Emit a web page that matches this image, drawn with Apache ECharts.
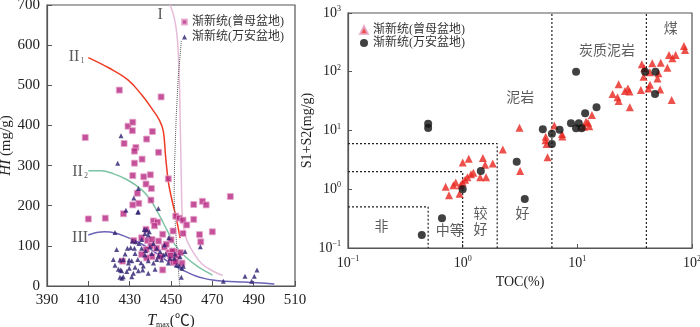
<!DOCTYPE html>
<html>
<head>
    <meta charset="utf-8" />
    <title>Tmax-HI 与 TOC-S1+S2</title>
    <script src="https://cdn.jsdelivr.net/npm/echarts@6/dist/echarts.min.js"></script>
    <style type="text/css">
        html, body { margin: 0; padding: 0; background: #fff; }
        #chart { width: 700px; height: 327px; }
    </style>
</head>
<body>
    <div id="chart"></div>
    <script>
        // 图例名称
        const zmName = '渐新统(曾母盆地)';
        const waName = '渐新统(万安盆地)';

        // 左图: Tmax - HI 散点
        const zmTmax = [425, 445.2, 408.5, 429.2, 431.5, 431.3, 441, 427.3, 438.2, 433, 432.3, 444, 436, 432.3, 431.5, 436.8, 440, 448.7,
            437.9, 440.5, 433.7, 440.3, 434.4, 431.5, 427, 410, 418.2, 461, 465.2, 467, 478.7, 461, 452.3, 454, 455.8, 457.6, 451, 455.8,
            463.8, 464.4, 470, 446, 441.5, 443.5, 442, 437.9, 435.8, 438.7, 444, 440.3, 432, 443, 438, 446.8, 449, 451.6, 453, 444.8,
            440.8, 438.2, 426.5, 435.8, 450, 451.3, 455.3, 446, 440.8, 450, 447.7, 454.5, 450.6, 449.8, 452.3];
        const zmHI = [488, 471, 370, 398, 408, 387, 385, 355, 366, 345, 336, 333, 316, 306, 275, 272, 277, 267,
            254, 243, 231, 214, 206, 202, 180, 167, 169, 203, 211, 202, 223, 166, 174, 169, 164, 152, 137, 131,
            128, 110, 135, 129, 162, 159, 150, 141, 120, 113, 112, 100, 113, 94, 91, 97, 83, 86, 75, 73,
            73, 70, 62, 79, 65, 59, 57, 40, 116, 115, 104, 83, 87, 76, 60];
        const waTmax = [425.8, 424.2, 434.2, 432, 434.2, 443.9, 428.2, 433.9, 422.9, 437.1, 438.2, 437.4, 439, 439.5, 431.3, 432.9,
            434.5, 435.8, 428.9, 430.5, 432.3, 423.7, 435.8, 437.7, 439.8, 441.5, 443.1, 422.1, 425.3, 426.9, 429.7, 431, 433.9,
            424.5, 426.1, 429.8, 432.6, 435.5, 436.6, 439, 441.5, 443.1, 445.5, 447.4, 449.5, 425.3, 426.9, 431, 434.2, 436.3,
            442.3, 439, 451.9, 451.6, 454.4, 455.2, 456.8, 444.7, 446.3, 440.7, 443.9, 432.6, 427.8, 437.4, 429.4, 422.9, 448.7,
            452.7, 428.6, 431.8, 448.9, 446.8, 455, 453.9, 456, 425.5, 426.3, 464.2, 475.3, 485.8, 489, 490.3, 491.6];
        const waHI = [374, 306, 243, 219, 185, 193, 189, 184, 133, 141, 140, 131, 127, 135, 112, 110,
            106, 116, 94, 95, 94, 91, 94, 88, 98, 106, 94, 66, 65, 66, 65, 63, 66,
            42, 38, 44, 47, 58, 50, 63, 57, 66, 65, 80, 69, 22, 23, 23, 38, 40,
            42, 32, 80, 69, 73, 44, 86, 86, 77, 81, 75, 81, 80, 77, 57, 52, 57,
            52, 36, 32, 120, 102, 22, 51, 49, 40, 19, 98, 12, 24, 12, 24, 40];

        // 干酪根演化曲线
        const curveIT = [449.5, 451.5, 453, 454, 454.5, 455, 455.5, 456.5, 458, 461, 465, 470, 475];
        const curveIHI = [700, 670, 620, 520, 400, 260, 170, 135, 110, 82, 55, 38, 26];
        const curveII1T = [410, 420, 429.3, 436, 441, 444.5, 446.3, 447.4, 448.7, 450.3, 452, 453.3, 454.4];
        const curveII1HI = [569, 543, 513, 475, 440, 412, 385, 322, 260, 218, 181, 150, 119];
        const curveII2T = [410, 416, 422, 429, 436, 440, 443, 446, 448, 452, 457, 463, 467, 470];
        const curveII2HI = [287, 287, 280, 264, 239, 215, 189, 160, 140, 102, 73, 48, 36, 27];
        const curveIIIT = [410, 414, 418, 423, 428, 433, 438, 442, 446, 450, 454, 458, 462, 466, 470, 476, 485, 492, 500];
        const curveIIIHI = [127, 133, 135, 132, 123, 112, 98, 85, 70, 56, 44, 34, 25, 19, 15, 12, 10, 8, 5];
        const dotT = [455, 453.5, 452.5, 451.7, 451.5, 452, 453, 454.2];
        const dotHI = [610, 520, 420, 300, 220, 160, 80, 0];

        // 曲线标注
        const curveLabels = ['{r|I}', '{r|II}{s|1}', '{r|II}{s|2}', '{r|III}'];
        const curveLabelT = [444.7, 404.3, 406, 406];
        const curveLabelHI = [675, 570, 285, 119];

        // 右图: TOC - S1+S2 散点
        const zmToc = [0.71, 0.76, 0.83, 0.87, 0.94, 0.96, 1.0, 1.0, 1.05, 1.13, 1.1, 1.18, 1.24, 1.42, 1.5, 1.57, 1.6, 1.83,
            2.24, 3.13, 3.17, 5.28, 5.3, 5.4, 5.5, 6.3, 7.35, 7.4, 11.4, 12.4, 12.7, 13.4, 11.9, 20.3, 22.9, 22.4, 22.9,
            26, 27.6, 28.5, 28.7, 35.8, 36.5, 38.3, 37.8, 41.7, 43, 42.9, 45, 50, 51, 52.7, 53.4, 61, 63, 66.5, 67.5, 72, 85, 87];
        const zmS = [1.1, 0.79, 1.17, 1.3, 0.84, 1.17, 1.3, 2.85, 1.45, 3.3, 1.6, 1.8, 1.9, 1.6, 3.4, 2.6, 1.6, 2.75,
            4.75, 11.1, 2.05, 6.8, 7.8, 5.9, 3.5, 12.2, 8.7, 7.9, 11.6, 13.5, 11.8, 18.4, 14.1, 41.7, 61, 36.7, 31.8,
            47, 52, 46, 24.8, 49, 134, 115, 82, 52, 60, 98, 139, 77, 94, 50, 142, 117, 193, 33, 170, 193, 274, 235];
        const waToc = [0.5, 0.5, 0.44, 0.66, 1.0, 1.44, 2.96, 3.48, 5.0, 6.0, 6.0, 7.0, 8.8, 9.75, 10.3, 10.9, 9.75, 11.7, 14.7, 39, 48, 47.6];
        const waS = [13, 11, 0.167, 0.32, 1.0, 2.05, 2.95, 0.68, 10.5, 8.8, 5.9, 10.3, 13.3, 10.9, 13.3, 10.9, 100, 19.6, 24.8, 100, 100, 41.7];

        // 评价界线
        const gradeToc = [0.5, 1, 2];
        const gradeS = [0.5, 2, 6];
        const lithoToc = [6, 40];

        // 分区标注
        const zoneLabels = ['非', '中等', '较\n好', '好', '泥岩', '炭质泥岩', '煤'];
        const zoneToc = [0.196, 0.77, 1.43, 3.32, 3.18, 18.1, 65.3];
        const zoneS = [0.237, 0.202, 0.294, 0.394, 37.6, 234, 556];

        const serif = 'Liberation Serif, "Noto Sans CJK SC", serif';
        const zip = (a, b) => a.map((v, i) => [v, b[i]]);

        const chart = echarts.init(document.getElementById('chart'));

        function curve(name, t, hi, color, type) {
            return {
                name: name,
                type: 'line',
                xAxisIndex: 0,
                yAxisIndex: 0,
                data: zip(t, hi),
                smooth: type ? false : 0.4,
                showSymbol: false,
                silent: true,
                lineStyle: { color: color, width: type ? 1 : 1.5, type: type || 'solid' },
                z: 1
            };
        }

        function boundary(points) {
            return {
                type: 'line',
                xAxisIndex: 1,
                yAxisIndex: 1,
                data: points,
                showSymbol: false,
                silent: true,
                lineStyle: { color: '#222', width: 1.2, type: [2, 2] },
                z: 1
            };
        }

        const boundarySeries = gradeToc.map((toc, i) => boundary([[0.1, gradeS[i]], [toc, gradeS[i]], [toc, 0.1]]))
            .concat(lithoToc.map(toc => boundary([[toc, 0.1], [toc, 1000]])));

        const logLabel = {
            fontFamily: serif,
            color: '#222',
            margin: 7,
            formatter: v => '{b|10}{e|' + String(Math.round(Math.log10(v))).replace('-', '−') + '}',
            rich: {
                b: { fontSize: 14, fontFamily: serif, color: '#222', lineHeight: 16 },
                e: { fontSize: 8, fontFamily: serif, color: '#222', verticalAlign: 'top', lineHeight: 10 }
            }
        };

        const option = {
            animation: false,
            backgroundColor: '#fff',
            grid: [
                { left: 47, top: 5, width: 248, height: 281, show: true, borderColor: '#555', borderWidth: 1.2, outerBoundsMode: 'none' },
                { left: 348, top: 13, width: 344, height: 235, show: true, borderColor: '#555', borderWidth: 1.2, outerBoundsMode: 'none' }
            ],
            legend: [
                {
                    left: 176, top: 11, orient: 'vertical', itemGap: 3, itemWidth: 5, itemHeight: 5,
                    textStyle: { fontSize: 12, fontFamily: serif, color: '#333' },
                    data: [
                        { name: zmName, icon: 'rect', itemStyle: { color: '#b5267f' } },
                        { name: waName, icon: 'triangle', itemStyle: { color: '#2e1f72' } }
                    ]
                },
                {
                    left: 354, top: 19, orient: 'vertical', itemGap: 1, itemWidth: 8, itemHeight: 8,
                    textStyle: { fontSize: 12, fontFamily: serif, color: '#333' },
                    data: [
                        { name: zmName, icon: 'triangle', itemStyle: { color: '#e8251f' } },
                        { name: waName, icon: 'circle', itemStyle: { color: '#111' } }
                    ]
                }
            ],
            xAxis: [
                {
                    gridIndex: 0, type: 'value', min: 390, max: 510, interval: 20,
                    name: '{i|T}{s|max}{n|(℃)}', nameLocation: 'middle', nameGap: 22,
                    nameTextStyle: {
                        rich: {
                            i: { fontSize: 16, fontStyle: 'italic', fontFamily: serif, color: '#222' },
                            s: { fontSize: 8, fontFamily: serif, color: '#222', verticalAlign: 'bottom', padding: [6, 0, 0, 0] },
                            n: { fontSize: 15, fontFamily: serif, color: '#222' }
                        }
                    },
                    axisLine: { lineStyle: { color: '#555', width: 1.2 } },
                    axisTick: { inside: true, length: 5, lineStyle: { color: '#555' } },
                    axisLabel: { fontSize: 15, fontFamily: serif, color: '#222', margin: 7 },
                    splitLine: { show: false }
                },
                {
                    gridIndex: 1, type: 'log', logBase: 10, min: 0.1, max: 100,
                    name: 'TOC(%)', nameLocation: 'middle', nameGap: 26,
                    nameTextStyle: { fontSize: 14, fontFamily: serif, color: '#222' },
                    axisLine: { lineStyle: { color: '#555', width: 1.2 } },
                    axisTick: { inside: true, length: 4, lineStyle: { color: '#555' } },
                    minorTick: { show: false },
                    axisLabel: logLabel,
                    splitLine: { show: false }
                }
            ],
            yAxis: [
                {
                    gridIndex: 0, type: 'value', min: 0, max: 700, interval: 100,
                    name: '{i|HI}{n| (mg/g)}', nameLocation: 'middle', nameGap: 31, nameRotate: 90,
                    nameTextStyle: {
                        rich: {
                            i: { fontSize: 15, fontStyle: 'italic', fontFamily: serif, color: '#222' },
                            n: { fontSize: 15, fontFamily: serif, color: '#222' }
                        }
                    },
                    axisLine: { lineStyle: { color: '#555', width: 1.2 } },
                    axisTick: { inside: true, length: 5, lineStyle: { color: '#555' } },
                    axisLabel: { fontSize: 15, fontFamily: serif, color: '#222', margin: 7 },
                    splitLine: { show: false }
                },
                {
                    gridIndex: 1, type: 'log', logBase: 10, min: 0.1, max: 1000,
                    name: 'S1+S2(mg/g)', nameLocation: 'middle', nameGap: 23, nameRotate: 90,
                    nameTextStyle: { fontSize: 14, fontFamily: serif, color: '#222' },
                    axisLine: { lineStyle: { color: '#555', width: 1.2 } },
                    axisTick: { inside: true, length: 4, lineStyle: { color: '#555' } },
                    minorTick: { show: false },
                    axisLabel: logLabel,
                    splitLine: { show: false }
                }
            ],
            series: [
                curve('I', curveIT, curveIHI, '#e5bcd8'),
                curve('II1', curveII1T, curveII1HI, '#ee3b24'),
                curve('II2', curveII2T, curveII2HI, '#7cc3a4'),
                curve('III', curveIIIT, curveIIIHI, '#6b63b5'),
                curve('dot', dotT, dotHI, '#555', 'dotted'),
                {
                    name: zmName, type: 'scatter', xAxisIndex: 0, yAxisIndex: 0,
                    data: zip(zmTmax, zmHI), symbol: 'rect', symbolSize: 6,
                    itemStyle: { color: '#b5267f', borderColor: '#e6a6cc', borderWidth: 1 }, z: 3
                },
                {
                    name: waName, type: 'scatter', xAxisIndex: 0, yAxisIndex: 0,
                    data: zip(waTmax, waHI), symbol: 'triangle', symbolSize: 5,
                    itemStyle: { color: '#2e1f72' }, z: 4
                },
                {
                    type: 'scatter', xAxisIndex: 0, yAxisIndex: 0, symbolSize: 0, silent: true,
                    data: curveLabels.map((t, i) => ({ name: t, value: [curveLabelT[i], curveLabelHI[i]] })),
                    label: {
                        show: true, position: 'inside', formatter: p => p.name,
                        rich: {
                            r: { fontSize: 16, fontFamily: serif, color: '#333' },
                            s: { fontSize: 8, fontFamily: serif, color: '#333', verticalAlign: 'bottom', padding: [6, 0, 0, 1] }
                        }
                    }
                },
                ...boundarySeries,
                {
                    name: zmName, type: 'scatter', xAxisIndex: 1, yAxisIndex: 1,
                    data: zip(zmToc, zmS), symbol: 'triangle', symbolSize: 8,
                    itemStyle: { color: '#e8251f' }, z: 3
                },
                {
                    name: waName, type: 'scatter', xAxisIndex: 1, yAxisIndex: 1,
                    data: zip(waToc, waS), symbol: 'circle', symbolSize: 8,
                    itemStyle: { color: '#111' }, z: 4
                },
                {
                    type: 'scatter', xAxisIndex: 1, yAxisIndex: 1, symbolSize: 0, silent: true,
                    data: zoneLabels.map((t, i) => ({ name: t, value: [zoneToc[i], zoneS[i]] })),
                    label: {
                        show: true, position: 'inside', formatter: p => p.name,
                        fontSize: 14, lineHeight: 16, fontFamily: '"Noto Sans CJK SC"', color: '#333'
                    }
                }
            ]
        };

        chart.setOption(option);
    </script>
</body>
</html>
